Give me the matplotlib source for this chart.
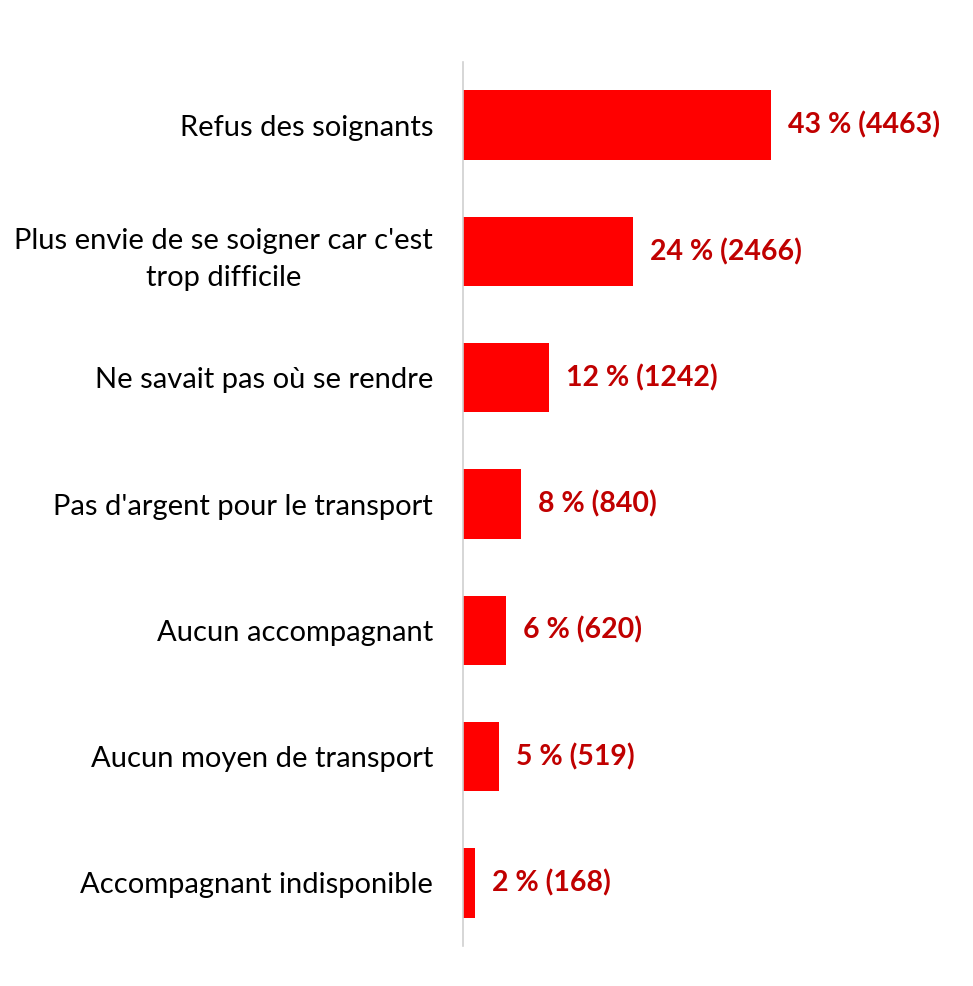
import matplotlib
matplotlib.use("Agg")
import matplotlib.pyplot as plt

categories = ["Refus des soignants",
              "Plus envie de se soigner car c'est\ntrop difficile",
              "Ne savait pas où se rendre",
              "Pas d'argent pour le transport",
              "Aucun accompagnant",
              "Aucun moyen de transport",
              "Accompagnant indisponible"]
counts = [4463, 2466, 1242, 840, 620, 519, 168]
percents = [43, 24, 12, 8, 6, 5, 2]

plt.rcParams['font.family'] = ['Lato', 'DejaVu Sans']

fig = plt.figure(figsize=(9.73, 9.86), dpi=100)
ax = fig.add_axes([463/973, 40/986, (950-463)/973, (946-62)/986])

y = list(range(len(categories)))
ax.barh(y, counts, height=0.55, color="#FF0000")
ax.set_ylim(len(categories) - 0.5, -0.5)
ax.set_xlim(0, 4463 * 487 / 308)
for yi, c, p in zip(y, counts, percents):
    ax.text(c + 250, yi, f"{p} % ({c})", va="center", ha="left",
            color="#C00000", fontsize=20.5, fontweight="bold")

ax.set_yticks(y)
ax.set_yticklabels(categories, fontsize=21, ha="right", multialignment="center",
                   linespacing=1.55)
ax.tick_params(axis="y", length=0, pad=21.5)
ax.set_xticks([])
for s in ["top", "right", "bottom"]:
    ax.spines[s].set_visible(False)
ax.spines["left"].set_color("#D0D0D0")
ax.spines["left"].set_linewidth(1.2)

fig.savefig("out.png", dpi=100)
